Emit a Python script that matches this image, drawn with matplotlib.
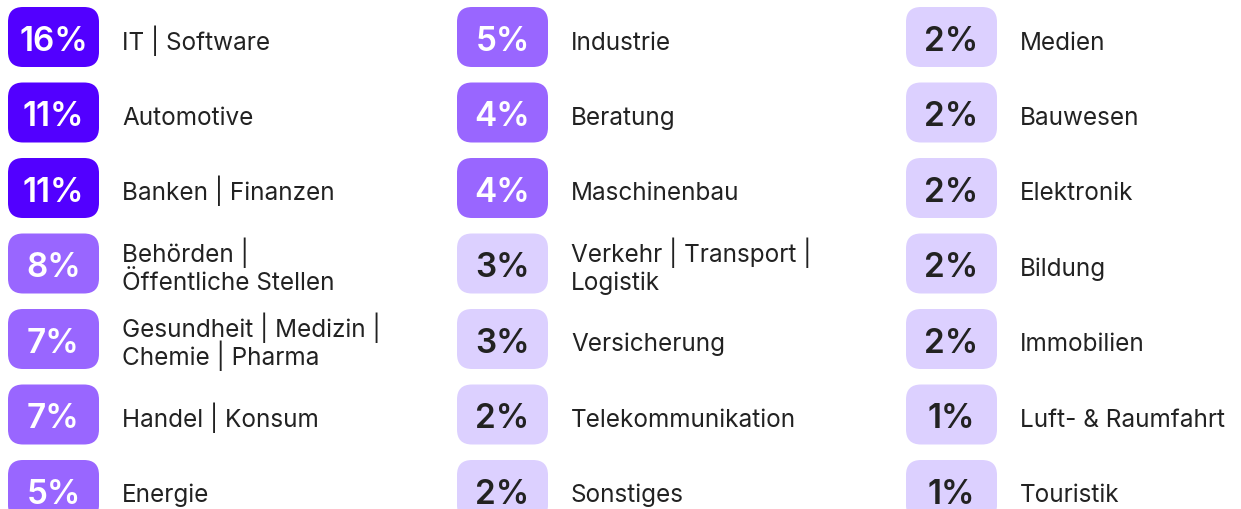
import matplotlib
matplotlib.use("Agg")
import matplotlib.pyplot as plt
from matplotlib.patches import FancyBboxPatch

values = [16, 11, 11, 8, 7, 7, 5,
          5, 4, 4, 3, 3, 2, 2,
          2, 2, 2, 2, 2, 1, 1]
labels = ["IT | Software", "Automotive", "Banken | Finanzen",
          "Behörden |\nÖffentliche Stellen", "Gesundheit | Medizin |\nChemie | Pharma",
          "Handel | Konsum", "Energie",
          "Industrie", "Beratung", "Maschinenbau", "Verkehr | Transport |\nLogistik",
          "Versicherung", "Telekommunikation", "Sonstiges",
          "Medien", "Bauwesen", "Elektronik", "Bildung", "Immobilien",
          "Luft- & Raumfahrt", "Touristik"]

DARK = "#5200FF"
MID = "#9966FF"
LIGHT = "#DCD0FF"
TEXT = "#222222"

W, H = 1241, 510
fig = plt.figure(figsize=(W / 100, H / 100), dpi=100)
ax = fig.add_axes([0, 0, 1, 1])
ax.set_xlim(0, W)
ax.set_ylim(H, 0)
ax.axis("off")

rows = 7
col_x0 = 8
col_pitch = 449
row_c0 = 38
row_pitch = 75.5
box_w, box_h = 91, 60
fam = ["Inter", "DejaVu Sans"]

for i, (v, lab) in enumerate(zip(values, labels)):
    c, r = divmod(i, rows)
    x0 = col_x0 + c * col_pitch
    yc = row_c0 + r * row_pitch
    if v >= 10:
        fc, tc = DARK, "white"
    elif v >= 4:
        fc, tc = MID, "white"
    else:
        fc, tc = LIGHT, TEXT
    rad = 15
    patch = FancyBboxPatch((x0 + rad, yc - box_h / 2 + rad), box_w - 2 * rad, box_h - 2 * rad,
                           boxstyle=f"round,pad={rad}", fc=fc, ec="none")
    ax.add_patch(patch)
    ax.text(x0 + box_w / 2, yc + 13, f"{v}%", ha="center", va="baseline",
            fontsize=24, fontweight="semibold", color=tc, family=fam)
    lines = lab.split("\n")
    if len(lines) == 1:
        bases = [yc + 11.5]
    else:
        bases = [yc - 2.5, yc + 25.5]
    for ln, b in zip(lines, bases):
        ax.text(x0 + 114, b, ln, ha="left", va="baseline", fontsize=17.5,
                color=TEXT, family=fam)

fig.savefig("out.png", dpi=100, facecolor="white")
